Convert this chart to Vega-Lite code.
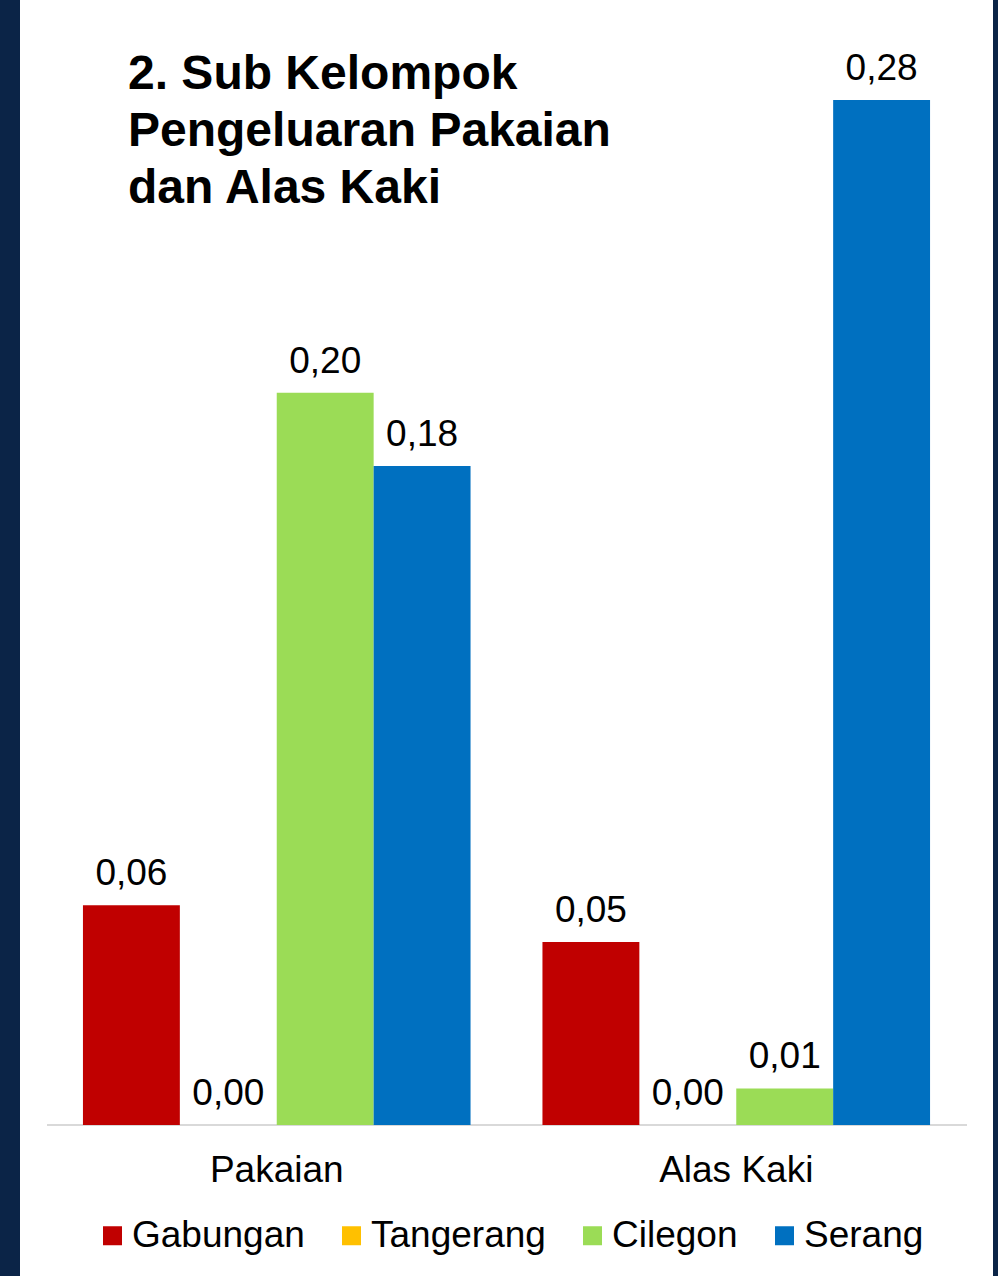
{
  "$schema": "https://vega.github.io/schema/vega-lite/v6.json",
  "width": 973,
  "height": 1276,
  "autosize": "none",
  "padding": {"left": 20, "top": 0, "right": 5, "bottom": 0},
  "background": "#0B2447",
  "config": {
    "view": {"fill": "#FFFFFF", "stroke": null},
    "font": "Liberation Sans",
    "locale": {"number": {"decimal": ",", "thousands": ".", "grouping": [3], "currency": ["Rp", ""]}}
  },
  "title": {
    "text": ["2. Sub Kelompok", "Pengeluaran Pakaian", "dan Alas Kaki"],
    "anchor": "start",
    "frame": "group",
    "orient": "top",
    "baseline": "top",
    "offset": -213,
    "dx": 108,
    "fontSize": 48,
    "fontWeight": "bold",
    "lineHeight": 57,
    "color": "#000000",
    "font": "Liberation Sans"
  },
  "data": {
    "values": [
      {"kelompok": "Pakaian", "kota": "Gabungan", "nilai": 0.06},
      {"kelompok": "Pakaian", "kota": "Tangerang", "nilai": 0.0},
      {"kelompok": "Pakaian", "kota": "Cilegon", "nilai": 0.20},
      {"kelompok": "Pakaian", "kota": "Serang", "nilai": 0.18},
      {"kelompok": "Alas Kaki", "kota": "Gabungan", "nilai": 0.05},
      {"kelompok": "Alas Kaki", "kota": "Tangerang", "nilai": 0.0},
      {"kelompok": "Alas Kaki", "kota": "Cilegon", "nilai": 0.01},
      {"kelompok": "Alas Kaki", "kota": "Serang", "nilai": 0.28}
    ]
  },
  "encoding": {
    "x": {
      "field": "kelompok",
      "type": "nominal",
      "sort": ["Pakaian", "Alas Kaki"],
      "scale": {"paddingInner": 0.1565, "paddingOuter": 0.137},
      "axis": {
        "title": null,
        "labelAngle": 0,
        "labelFontSize": 37,
        "labelColor": "#000000",
        "labelPadding": 27,
        "ticks": false,
        "domain": false,
        "offset": -151,
        "labelFont": "Liberation Sans"
      }
    },
    "xOffset": {
      "field": "kota",
      "type": "nominal",
      "sort": ["Gabungan", "Tangerang", "Cilegon", "Serang"],
      "scale": {"paddingInner": 0, "paddingOuter": 0}
    },
    "y": {
      "field": "nilai",
      "type": "quantitative",
      "scale": {"domain": [-0.04125, 0.30732], "nice": false, "zero": false},
      "axis": null
    }
  },
  "layer": [
    {
      "mark": {"type": "rule", "color": "#D9D9D9", "strokeWidth": 2},
      "encoding": {
        "x": {"datum": "Pakaian", "bandPosition": -0.0928},
        "x2": {"datum": "Alas Kaki", "bandPosition": 1.095},
        "xOffset": null,
        "y": {"datum": 0, "type": "quantitative"}
      }
    },
    {
      "mark": {"type": "bar"},
      "encoding": {
        "color": {
          "field": "kota",
          "type": "nominal",
          "scale": {
            "domain": ["Gabungan", "Tangerang", "Cilegon", "Serang"],
            "range": ["#C00000", "#FFC000", "#9BDC56", "#0070C0"]
          },
          "legend": {
            "title": null,
            "orient": "none",
            "direction": "horizontal",
            "legendX": 74,
            "legendY": 1217,
            "padding": 0,
            "symbolType": "square",
            "symbolSize": 361,
            "symbolStrokeWidth": 0,
            "labelFontSize": 37,
            "labelColor": "#000000",
            "labelOffset": 1,
            "columnPadding": 28,
            "labelFont": "Liberation Sans",
            "labelLimit": 400
          }
        }
      }
    },
    {
      "mark": {"type": "text", "dy": -20, "baseline": "alphabetic", "align": "center", "fontSize": 37, "color": "#000000", "font": "Liberation Sans"},
      "encoding": {
        "text": {"field": "nilai", "type": "quantitative", "format": ".2f"}
      }
    }
  ]
}
